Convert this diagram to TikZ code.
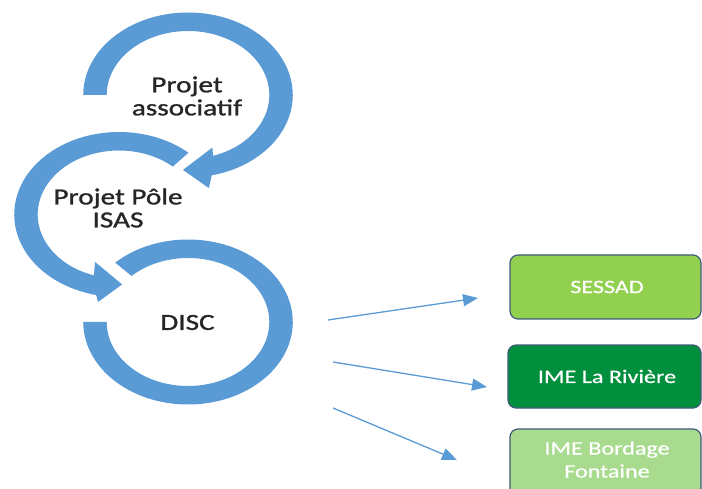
\documentclass[tikz,border=0pt]{standalone}
\usepackage{fontspec}
\setmainfont{Carlito}[FakeStretch=1.27]
\newfontfamily\ringfont{Carlito}[FakeStretch=1.27,FakeBold=1.2]
\newfontfamily\boxfont{Carlito}[FakeStretch=1.27,FakeBold=0.6]
\usetikzlibrary{arrows.meta}
\definecolor{ringblue}{HTML}{5B9BD5}
\definecolor{txtdark}{HTML}{262626}
\definecolor{boxline}{HTML}{41597A}
\definecolor{gLight}{HTML}{92D050}
\definecolor{gDark}{HTML}{008F3C}
\definecolor{gPale}{HTML}{A9DB8E}
\tikzset{
  ring/.style={fill=ringblue},
  ringtext/.style={text=txtdark, align=center, font=\ringfont\fontsize{23}{23}\selectfont, inner sep=0pt},
  box/.style={draw=boxline, line width=1.2pt, rounded corners=8pt},
  boxtext/.style={text=white, align=center, font=\boxfont\fontsize{19}{23}\selectfont, inner sep=0pt},
  link/.style={draw=ringblue, line width=1.3pt, -{Triangle[length=15pt,width=12pt]}}
}
\begin{document}
\begin{tikzpicture}[x=1pt,y=1pt]
\useasboundingbox (0,0) rectangle (702,488);
% top ring (Projet associatif)
\begin{scope}[shift={(188,393)},xscale=1.27]
\fill[ring] (180:82.5pt) arc[start angle=180,end angle=-76.9,radius=82.5pt]
  -- (-80:94.5pt) -- (-93:75pt) -- (-70:56pt) -- (-72:64pt)
  arc[start angle=-72,end angle=180,radius=64pt] -- cycle;
\end{scope}
% middle ring (Projet Pole ISAS)
\begin{scope}[shift={(119,273.5)},xscale=1.27]
\fill[ring] (48.5:82.5pt) arc[start angle=48.5,end angle=257.4,radius=82.5pt]
  -- (259.3:89pt) -- (272:70pt) -- (248.3:51pt) -- (252:64pt)
  arc[start angle=252,end angle=48.5,radius=64pt] -- cycle;
\end{scope}
% DISC ring
\begin{scope}[shift={(188,166)},xscale=1.27]
\fill[ring] (134:82.5pt) arc[start angle=134,end angle=-180,radius=82.5pt]
  -- (180:64pt) arc[start angle=-180,end angle=134,radius=64pt] -- cycle;
\end{scope}
% ring texts
\node[ringtext] (pa) at (187,392) {Projet\\associatif};
\node[ringtext] (pp) at (118,280) {Projet Pôle\\ISAS};
\node[ringtext] (disc) at (187.5,165.5) {DISC};
% boxes
\draw[box, fill=gLight] (510,233) rectangle (701,169);
\draw[box, fill=gDark] (508,143) rectangle (701,80);
\draw[box, fill=gPale] (510,59) rectangle (701,-20);
\node[boxtext] (sessad) at (607,201) {SESSAD};
\node[boxtext] (riv) at (607,111.5) {IME La Rivière};
\node[boxtext] (bord) at (607,28.5) {IME Bordage\\Fontaine};
% arrows
\coordinate (s1) at (328,168);
\coordinate (e1) at (478,190);
\coordinate (s2) at (333,126);
\coordinate (e2) at (487,101);
\coordinate (s3) at (333,80);
\coordinate (e3) at (457,28);
\draw[link] (s1) -- (e1);
\draw[link] (s2) -- (e2);
\draw[link] (s3) -- (e3);
\end{tikzpicture}
\end{document}
